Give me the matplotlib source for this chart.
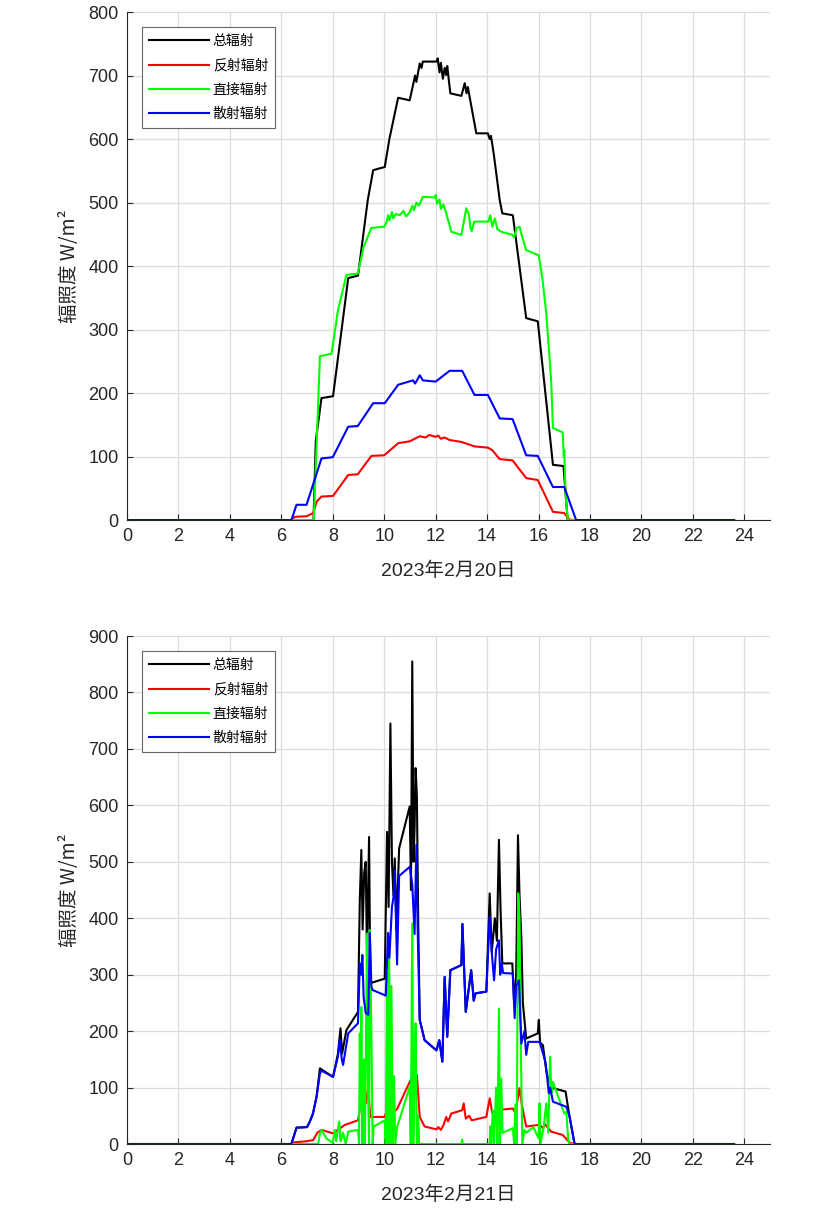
import matplotlib
matplotlib.use("Agg")
import matplotlib.pyplot as plt

plt.rcParams['font.family'] = ['Liberation Sans', 'Noto Sans CJK SC', 'DejaVu Sans']

labels = ["总辐射", "反射辐射", "直接辐射", "散射辐射"]
colors = ["#000000", "#ff0000", "#00ff00", "#0000ff"]
xticks = list(range(0, 25, 2))
day_labels = ["2023年2月20日", "2023年2月21日"]

# ---- 2月20日 (hours, W/m2) ----
tot1_t = [0, 7.25, 7.34, 7.56, 8.01, 8.6, 8.98, 9.36, 9.57, 10.02, 10.2, 10.54, 10.99, 11.2, 11.25,
          11.38, 11.45, 11.5, 12.03, 12.08, 12.15, 12.2, 12.28, 12.35, 12.41, 12.45, 12.57, 13.0,
          13.13, 13.2, 13.25, 13.58, 14.03, 14.1, 14.15, 14.26, 14.49, 14.59, 15.0, 15.52, 15.97,
          16.56, 16.97, 17.13, 23.6]
tot1_v = [0, 0, 125, 192, 195, 381, 385, 504, 551, 556, 600, 665, 661, 700, 690,
          719, 712, 722, 722, 727, 705, 720, 695, 712, 701, 715, 672, 668,
          688, 672, 682, 609, 609, 600, 605, 576, 504, 483, 480, 318, 313,
          87, 85, 0, 0]

ref1_t = [0, 6.45, 6.5, 6.98, 7.24, 7.37, 7.56, 8.01, 8.6, 8.97, 9.5, 10.0, 10.54, 10.99, 11.38,
          11.6, 11.75, 12.0, 12.1, 12.2, 12.35, 12.54, 13.0, 13.51, 14.03, 14.2, 14.49, 14.99,
          15.52, 15.97, 16.56, 17.0, 17.2, 17.3, 23.6]
ref1_v = [0, 0, 5, 6, 11, 29, 37, 38, 71, 72, 101, 102, 121, 124, 132,
          130, 134, 131, 133, 128, 130, 126, 123, 116, 114, 110, 96, 94,
          66, 63, 13, 11, 1, 0, 0]

dir1_t = [0, 7.26, 7.5, 7.95, 8.2, 8.53, 8.97, 9.2, 9.5, 10.0, 10.1, 10.15, 10.2, 10.3, 10.35,
          10.45, 10.6, 10.75, 10.85, 10.99, 11.1, 11.15, 11.25, 11.35, 11.5, 11.97, 12.0, 12.05,
          12.15, 12.2, 12.3, 12.41, 12.61, 13.0, 13.19, 13.3, 13.35, 13.4, 13.5, 14.05, 14.12,
          14.2, 14.3, 14.4, 14.55, 14.99, 15.05, 15.15, 15.26, 15.35, 15.52, 16.01, 16.15, 16.3,
          16.4, 16.49, 16.56, 16.94, 16.98, 17.0, 17.05, 17.14, 23.6]
dir1_v = [0, 0, 258, 262, 330, 386, 388, 430, 460, 462, 470, 480, 472, 485, 475,
          482, 480, 487, 478, 485, 495, 488, 500, 495, 509, 508, 512, 498,
          505, 490, 497, 483, 454, 449, 491, 480, 460, 455, 470, 470, 480,
          462, 475, 458, 454, 449, 445, 460, 462, 448, 425, 417, 380, 326,
          270, 220, 145, 138, 100, 110, 40, 0, 0]

dif1_t = [0, 6.39, 6.59, 6.98, 7.56, 8.0, 8.6, 8.97, 9.57, 10.02, 10.54, 11.12, 11.2, 11.3, 11.38,
          11.5, 12.0, 12.54, 13.03, 13.51, 14.03, 14.49, 14.99, 15.52, 15.97, 16.56, 17.0, 17.46, 23.6]
dif1_v = [0, 0, 24, 24, 97, 99, 147, 148, 184, 184, 213, 220, 215, 222, 228,
          220, 218, 235, 235, 197, 197, 160, 159, 102, 101, 52, 52, 0, 0]

# ---- 2月21日 ----
tot2_t = [0, 6.39, 6.59, 7.0, 7.1, 7.23, 7.37, 7.5, 8.01, 8.2, 8.3, 8.36, 8.53, 8.98, 9.05, 9.11,
          9.16, 9.22, 9.28, 9.33, 9.41, 9.46, 10.02, 10.11, 10.17, 10.24, 10.3, 10.36, 10.41, 10.47,
          10.58, 10.99, 11.04, 11.09, 11.14, 11.18, 11.22, 11.27, 11.32, 11.38, 11.57, 12.03, 12.14,
          12.26, 12.35, 12.45, 12.57, 13.0, 13.04, 13.17, 13.38, 13.48, 13.55, 13.97, 14.1, 14.18,
          14.3, 14.38, 14.46, 14.52, 14.59, 14.98, 15.05, 15.13, 15.2, 15.26, 15.33, 15.39, 15.52,
          15.97, 16.01, 16.06, 16.17, 16.3, 16.4, 16.56, 17.05, 17.2, 17.4, 23.6]
tot2_v = [0, 0, 29, 30, 39, 54, 84, 134, 119, 160, 205, 160, 202, 234, 432, 521,
          380, 480, 500, 330, 544, 285, 293, 553, 420, 745, 500, 440, 506, 380,
          524, 598, 450, 855, 500, 560, 666, 615, 400, 220, 184, 166, 184,
          146, 296, 190, 308, 317, 390, 234, 308, 254, 267, 270, 444, 340,
          400, 360, 539, 420, 320, 320, 250, 300, 547, 440, 367, 250, 187,
          196, 220, 180, 175, 130, 110, 99, 93, 50, 0, 0]

ref2_t = [0, 6.45, 6.5, 7.0, 7.24, 7.4, 7.56, 8.01, 8.47, 8.6, 8.98, 9.05, 9.11, 9.18, 9.24, 9.3,
          9.37, 9.46, 10.02, 10.1, 10.15, 10.21, 10.3, 10.5, 10.93, 11.06, 11.27, 11.38, 11.57,
          12.03, 12.1, 12.2, 12.3, 12.41, 12.48, 12.61, 13.03, 13.09, 13.17, 13.3, 13.4, 13.97,
          14.1, 14.2, 14.36, 15.0, 15.1, 15.26, 15.35, 15.52, 16.04, 16.17, 16.25, 16.49, 16.94,
          17.2, 17.35, 23.6]
ref2_v = [0, 0, 3, 5, 7, 20, 25, 19, 34, 36, 42, 60, 78, 65, 96, 72,
          101, 48, 48, 60, 50, 60, 55, 62, 104, 116, 122, 48, 31,
          26, 30, 25, 33, 48, 40, 54, 60, 72, 45, 50, 42, 48,
          81, 55, 60, 63, 55, 99, 70, 31, 34, 28, 35, 22, 16,
          3, 0, 0]

dir2_t = [0, 7.43, 7.5, 7.56, 7.75, 8.0, 8.08, 8.13, 8.25, 8.3, 8.4, 8.5, 8.6, 8.98, 9.02, 9.05,
          9.08, 9.11, 9.15, 9.2, 9.25, 9.33, 9.37, 9.41, 9.44, 9.5, 9.55, 9.59, 10.02, 10.06,
          10.11, 10.15, 10.19, 10.24, 10.28, 10.33, 10.38, 10.43, 10.5, 10.99, 11.03, 11.09, 11.13,
          11.18, 11.22, 11.27, 11.32, 11.36, 13.0, 13.03, 13.05, 14.1, 14.12, 14.16, 14.22, 14.27,
          14.35, 14.4, 14.46, 14.5, 14.55, 14.6, 15.0, 15.05, 15.1, 15.15, 15.21, 15.26, 15.3,
          15.37, 15.45, 15.52, 15.8, 16.0, 16.04, 16.07, 16.2, 16.3, 16.38, 16.45, 16.5, 16.56,
          17.0, 17.08, 17.15, 17.2, 23.6]
dir2_v = [0, 0, 19, 25, 10, 2, 25, 5, 40, 5, 20, 0, 22, 25, 0, 196,
          60, 243, 0, 150, 0, 373, 100, 0, 379, 200, 0, 31, 42, 0,
          302, 0, 361, 0, 280, 0, 120, 0, 30, 101, 0, 391, 0,
          120, 214, 0, 50, 0, 0, 8, 0, 0, 31, 0, 60, 0,
          100, 0, 240, 0, 116, 20, 28, 0, 70, 0, 444, 400, 200,
          0, 25, 20, 30, 10, 72, 0, 30, 72, 20, 155, 90, 110,
          54, 57, 10, 0, 0]

dif2_t = [0, 6.39, 6.59, 7.0, 7.1, 7.23, 7.37, 7.5, 7.56, 8.01, 8.2, 8.27, 8.35, 8.4, 8.6, 8.98,
          9.05, 9.1, 9.15, 9.2, 9.28, 9.38, 9.44, 9.5, 9.54, 10.06, 10.15, 10.2, 10.3, 10.37,
          10.41, 10.5, 10.58, 10.99, 11.09, 11.18, 11.25, 11.3, 11.38, 11.57, 12.03, 12.14, 12.26,
          12.35, 12.45, 12.57, 13.0, 13.04, 13.17, 13.38, 13.48, 13.55, 13.97, 14.1, 14.18, 14.27,
          14.35, 14.46, 14.51, 14.57, 14.62, 15.0, 15.07, 15.13, 15.24, 15.33, 15.45, 15.52, 15.6,
          16.04, 16.17, 16.27, 16.4, 16.45, 16.56, 17.08, 17.2, 17.4, 23.6]
dif2_v = [0, 0, 29, 30, 39, 54, 84, 125, 130, 119, 155, 184, 150, 140, 196, 214,
          320, 300, 335, 260, 232, 229, 374, 280, 273, 263, 374, 330, 420, 440,
          485, 318, 475, 491, 460, 372, 530, 380, 220, 184, 166, 184, 146,
          296, 190, 308, 317, 390, 234, 308, 254, 267, 270, 403, 340, 290,
          345, 361, 300, 320, 303, 302, 223, 280, 290, 178, 200, 158, 181,
          181, 161, 145, 90, 100, 75, 66, 50, 0, 0]

days = [
    (tot1_t, tot1_v, ref1_t, ref1_v, dir1_t, dir1_v, dif1_t, dif1_v, 800),
    (tot2_t, tot2_v, ref2_t, ref2_v, dir2_t, dir2_v, dif2_t, dif2_v, 900),
]

fig = plt.figure(figsize=(8.39, 12.3), dpi=100)
positions = [[0.1514, 0.5772, 0.7664, 0.4130], [0.1514, 0.0699, 0.7664, 0.4130]]

for i, d in enumerate(days):
    ax = fig.add_axes(positions[i])
    series = [(d[0], d[1]), (d[2], d[3]), (d[4], d[5]), (d[6], d[7])]
    for (t, v), lab, c in zip(series, labels, colors):
        ax.plot(t, v, color=c, lw=1.5, label=lab)

    ax.set_xlim(0, 25)
    ax.set_ylim(0, d[8])
    ax.set_xticks(xticks)
    ax.set_yticks(range(0, d[8] + 1, 100))
    ax.grid(True, color="#dcdcdc", lw=0.9)
    ax.set_axisbelow(True)
    for s in ["top", "right"]:
        ax.spines[s].set_visible(False)
    for s in ["left", "bottom"]:
        ax.spines[s].set_color("#262626")
        ax.spines[s].set_linewidth(0.8)
    ax.tick_params(direction="in", length=4, width=0.8, colors="#262626",
                   labelsize=13, pad=6)

    ax.set_xlabel(day_labels[i], fontsize=14, color="#262626",
                  family=['Liberation Sans', 'Noto Sans CJK SC'], labelpad=12)
    ax.set_ylabel("辐照度 W/m²", fontsize=14, color="#262626",
                  family=['Noto Sans CJK SC', 'DejaVu Sans'], labelpad=6)

    leg = ax.legend(loc="upper left", bbox_to_anchor=(15 / 643, 1 - 15 / 508),
                    borderaxespad=0, fancybox=False, framealpha=1, edgecolor="#666666",
                    handlelength=4.3, handletextpad=0.3, labelspacing=0.75,
                    borderpad=0.5,
                    prop={'family': ['Noto Sans CJK SC'], 'size': 10})
    leg.get_frame().set_linewidth(0.8)

plt.savefig("out.png", dpi=100)
